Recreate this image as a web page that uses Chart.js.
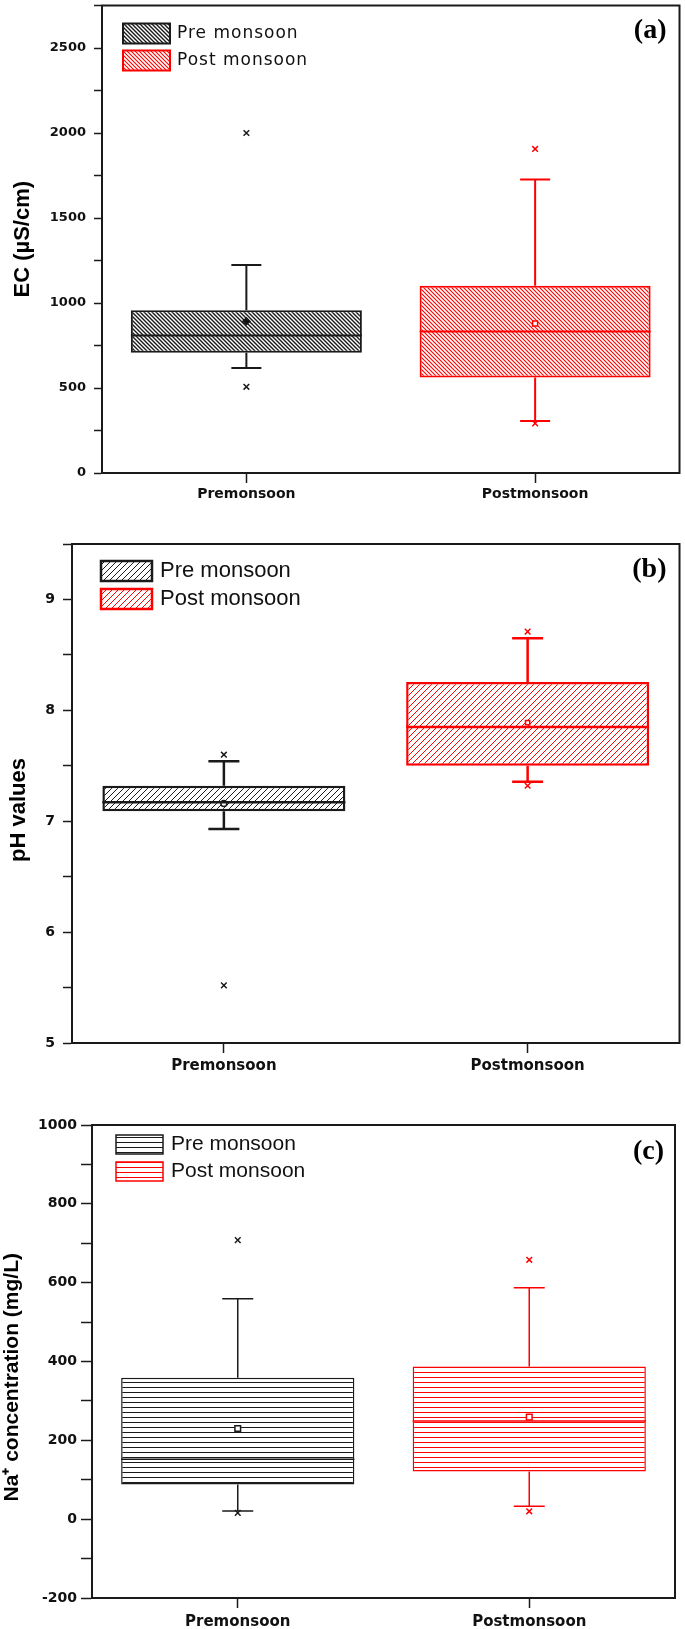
<!DOCTYPE html>
<html>
<head>
<meta charset="utf-8">
<script src="https://cdn.jsdelivr.net/npm/chart.js@4.4.1/dist/chart.umd.min.js"></script>
<style>
  html, body { margin: 0; padding: 0; background: #fff; }
  body { width: 685px; height: 1629px; position: relative; overflow: hidden; }
  canvas { position: absolute; left: 0; }
</style>
</head>
<body>
<canvas id="ec" width="685" height="510" style="top:0"></canvas>
<canvas id="ph" width="685" height="570" style="top:510px"></canvas>
<canvas id="na" width="685" height="549" style="top:1080px"></canvas>
<script>
// ── Data ─────────────────────────────────────────────────────
const categories = ['Premonsoon', 'Postmonsoon'];
const seriesNames = ['Pre monsoon', 'Post monsoon'];
const seriesColors = ['#1a1a1a', '#ff0000'];

// (a) EC, µS/cm  — [premonsoon, postmonsoon]
const ecLow = [618, 306];
const ecQ1 = [708, 562];
const ecMedian = [809, 832];
const ecQ3 = [957, 1101];
const ecHigh = [1224, 1727];
const ecMean = [893, 879];
const ecOutliers = [[2000, 507], [1906, 292]];
const ecTickLabels = [0, 500, 1000, 1500, 2000, 2500];

// (b) pH
const phLow = [6.93, 7.355];
const phQ1 = [7.09, 7.50];
const phMedian = [7.17, 7.85];
const phQ3 = [7.32, 8.255];
const phHigh = [7.54, 8.65];
const phMean = [7.16, 7.89];
const phOutliers = [[7.60, 5.52], [8.71, 7.32]];
const phTickLabels = [5, 6, 7, 8, 9];

// (c) Na+, mg/L
const naLow = [21, 33];
const naQ1 = [88, 121];
const naMedian = [152, 249];
const naQ3 = [359, 387];
const naHigh = [559, 587];
const naMean = [230, 259];
const naOutliers = [[708, 16], [658, 20]];
const naTickLabels = [-200, 0, 200, 400, 600, 800, 1000];

// ── Hatch fills ──────────────────────────────────────────────
function hatch(dir, color, size, lw) {
  const c = document.createElement('canvas');
  c.width = c.height = size;
  const g = c.getContext('2d');
  g.fillStyle = '#fff';
  g.fillRect(0, 0, size, size);
  g.strokeStyle = color;
  g.lineWidth = lw;
  g.beginPath();
  if (dir === '-') {
    g.moveTo(0, size / 2); g.lineTo(size, size / 2);
  } else if (dir === '/') {
    g.moveTo(-1, size + 1); g.lineTo(size + 1, -1);
    g.moveTo(-1, 1); g.lineTo(1, -1);
    g.moveTo(size - 1, size + 1); g.lineTo(size + 1, size - 1);
  } else {
    g.moveTo(-1, -1); g.lineTo(size + 1, size + 1);
    g.moveTo(size - 1, -1); g.lineTo(size + 1, 1);
    g.moveTo(-1, size - 1); g.lineTo(1, size + 1);
  }
  g.stroke();
  return g.createPattern(c, 'repeat');
}

// ── Whiskers, medians, frame, legend, panel tag ──────────────
function boxParts(s) {
  return {
    id: 'boxParts',
    afterDatasetsDraw(chart) {
      const { ctx, scales: { y } } = chart;
      ctx.save();
      ctx.lineWidth = s.lw;
      [0, 1].forEach(i => {
        const bar = chart.getDatasetMeta(i).data[i];
        const x = bar.x, half = bar.width / 2, cap = s.cap / 2;
        const yHi = y.getPixelForValue(s.high[i]);
        const yLo = y.getPixelForValue(s.low[i]);
        const yMed = y.getPixelForValue(s.median[i]);
        ctx.strokeStyle = seriesColors[i];
        ctx.beginPath();
        ctx.moveTo(x, y.getPixelForValue(s.q3[i])); ctx.lineTo(x, yHi);
        ctx.moveTo(x - cap, yHi); ctx.lineTo(x + cap, yHi);
        ctx.moveTo(x, y.getPixelForValue(s.q1[i])); ctx.lineTo(x, yLo);
        ctx.moveTo(x - cap, yLo); ctx.lineTo(x + cap, yLo);
        ctx.moveTo(x - half, yMed); ctx.lineTo(x + half, yMed);
        ctx.stroke();
      });
      const a = chart.chartArea;
      ctx.strokeStyle = '#1a1a1a';
      ctx.lineWidth = 2;
      ctx.strokeRect(a.left, a.top, a.right - a.left, a.bottom - a.top);
      ctx.restore();
    },
    afterDraw(chart) {
      const { ctx, chartArea: a } = chart;
      const L = s.legend;
      ctx.save();
      ctx.textBaseline = 'middle';
      [0, 1].forEach(i => {
        const ds = chart.data.datasets[i];
        const x = a.left + L.x, y = a.top + L.y + i * L.gap;
        ctx.fillStyle = ds.backgroundColor;
        ctx.fillRect(x, y, L.w, L.h);
        ctx.strokeStyle = ds.borderColor;
        ctx.lineWidth = L.lw;
        ctx.strokeRect(x, y, L.w, L.h);
        ctx.fillStyle = '#111';
        ctx.font = L.font;
        ctx.letterSpacing = L.spacing || '0px';
        ctx.fillText(ds.label, x + L.w + L.textGap, y + L.h / 2);
      });
      ctx.letterSpacing = '0px';
      ctx.font = 'bold 28px "Liberation Serif"';
      ctx.textAlign = 'right';
      ctx.fillStyle = '#000';
      ctx.fillText(s.tag, a.right - s.tagRight, a.top + s.tagY);
      ctx.restore();
    }
  };
}

// ── Chart builder ────────────────────────────────────────────
function boxChart(id, s) {
  const datasets = [0, 1].map(i => ({
    type: 'bar',
    label: seriesNames[i],
    data: categories.map((c, j) => j === i ? [s.q1[i], s.q3[i]] : null),
    backgroundColor: s.fills[i],
    borderColor: seriesColors[i],
    borderWidth: s.lw,
    borderSkipped: false,
    grouped: false,
    barPercentage: 0.8,
    categoryPercentage: 1,
    order: 3
  }));

  [0, 1].forEach(i => {
    datasets.push({
      type: 'line',
      data: [{ x: categories[i], y: s.mean[i] }],
      showLine: false,
      pointStyle: s.meanStyle[i],
      pointRadius: s.meanRadius,
      borderWidth: 1.5,
      borderColor: seriesColors[i],
      backgroundColor: s.meanFill[i],
      order: 1
    });
    datasets.push({
      type: 'line',
      data: s.outliers[i].map(v => ({ x: categories[i], y: v })),
      showLine: false,
      pointStyle: 'crossRot',
      pointRadius: 4,
      borderWidth: 1.5,
      borderColor: seriesColors[i],
      order: 1
    });
  });

  return new Chart(document.getElementById(id), {
    type: 'bar',
    data: { labels: categories, datasets },
    options: {
      responsive: false,
      animation: false,
      events: [],
      layout: { padding: s.pad },
      plugins: { legend: { display: false }, tooltip: { enabled: false } },
      scales: {
        x: {
          type: 'category',
          offset: true,
          afterFit: sc => { sc.height = s.xHeight; },
          border: { display: true, color: '#1a1a1a', width: 2 },
          grid: { display: true, offset: false, drawOnChartArea: false, tickLength: 10, tickColor: '#1a1a1a', tickWidth: 1.5 },
          ticks: { color: '#111', padding: s.xPad, font: { family: 'DejaVu Sans', weight: 'bold', size: s.xFont } }
        },
        y: {
          min: s.min,
          max: s.max,
          afterFit: sc => { sc.width = s.yWidth; sc.paddingTop = 0; sc.paddingBottom = 0; },
          border: { display: true, color: '#1a1a1a', width: 2 },
          grid: { display: true, drawOnChartArea: false, tickLength: s.tickLen, tickColor: '#1a1a1a', tickWidth: 1.5 },
          ticks: {
            stepSize: s.step,
            autoSkip: false,
            color: '#111',
            padding: s.yPad,
            font: { family: 'DejaVu Sans', weight: 'bold', size: s.yFont },
            callback: v => s.majors.includes(v) ? String(v) : ''
          },
          title: {
            display: true,
            text: s.title,
            color: '#000',
            padding: { top: s.titlePad, bottom: 0 },
            font: { family: 'Liberation Sans', weight: 'bold', size: s.titleFont }
          }
        }
      }
    },
    plugins: [boxParts(s)]
  });
}

// ── (a) EC ───────────────────────────────────────────────────
boxChart('ec', {
  low: ecLow, q1: ecQ1, median: ecMedian, q3: ecQ3, high: ecHigh, mean: ecMean, outliers: ecOutliers,
  majors: ecTickLabels, min: 0, max: 2750, step: 250,
  title: 'EC (µS/cm)', titleFont: 22, titlePad: 10,
  fills: [hatch('\\', '#1a1a1a', 4, 1.4), hatch('\\', '#ff0000', 4, 1.1)],
  meanStyle: ['rectRot', 'rect'], meanFill: ['#111', '#fff'], meanRadius: 3.5,
  lw: 2, cap: 30,
  pad: { left: 0, top: 3, right: 3, bottom: 0 },
  yWidth: 102, xHeight: 37, tickLen: 8, yPad: 8, yFont: 13, xFont: 14, xPad: 3,
  legend: { x: 21, y: 18, w: 47, h: 20, gap: 27, lw: 2, textGap: 7, font: '17px "DejaVu Sans"', spacing: '1px' },
  tag: '(a)', tagRight: 13, tagY: 25
});

// ── (b) pH ───────────────────────────────────────────────────
// trailing spaces nudge the rotated title down, as in the original
boxChart('ph', {
  low: phLow, q1: phQ1, median: phMedian, q3: phQ3, high: phHigh, mean: phMean, outliers: phOutliers,
  majors: phTickLabels, min: 5, max: 9.5, step: 0.5,
  title: 'pH values\u2003\u2002', titleFont: 22, titlePad: 6,
  fills: [hatch('/', '#1a1a1a', 6, 1), hatch('/', '#ff0000', 6, 1)],
  meanStyle: ['circle', 'rect'], meanFill: ['#fff', '#fff'], meanRadius: 3,
  lw: 2.5, cap: 31,
  pad: { left: 0, top: 34, right: 1, bottom: 0 },
  yWidth: 72, xHeight: 37, tickLen: 9, yPad: 8, yFont: 14, xFont: 15, xPad: 4,
  legend: { x: 29, y: 17, w: 51, h: 20, gap: 28, lw: 2.5, textGap: 8, font: '22px "Liberation Sans"' },
  tag: '(b)', tagRight: 13, tagY: 26
});

// ── (c) Na+ ──────────────────────────────────────────────────
boxChart('na', {
  low: naLow, q1: naQ1, median: naMedian, q3: naQ3, high: naHigh, mean: naMean, outliers: naOutliers,
  majors: naTickLabels, min: -200, max: 1000, step: 100,
  title: 'Na⁺ concentration (mg/L)\u2003\u2002', titleFont: 21, titlePad: 0,
  fills: [hatch('-', '#1a1a1a', 5, 1), hatch('-', '#ff0000', 5, 1)],
  meanStyle: ['rect', 'rect'], meanFill: ['#fff', '#fff'], meanRadius: 4,
  lw: 1.5, cap: 31,
  pad: { left: 0, top: 45, right: 10, bottom: 0 },
  yWidth: 92, xHeight: 31, tickLen: 11, yPad: 4, yFont: 14, xFont: 15, xPad: 5,
  legend: { x: 24, y: 10, w: 47, h: 19, gap: 27, lw: 1.5, textGap: 8, font: '21px "Liberation Sans"' },
  tag: '(c)', tagRight: 11, tagY: 27
});
</script>
</body>
</html>
